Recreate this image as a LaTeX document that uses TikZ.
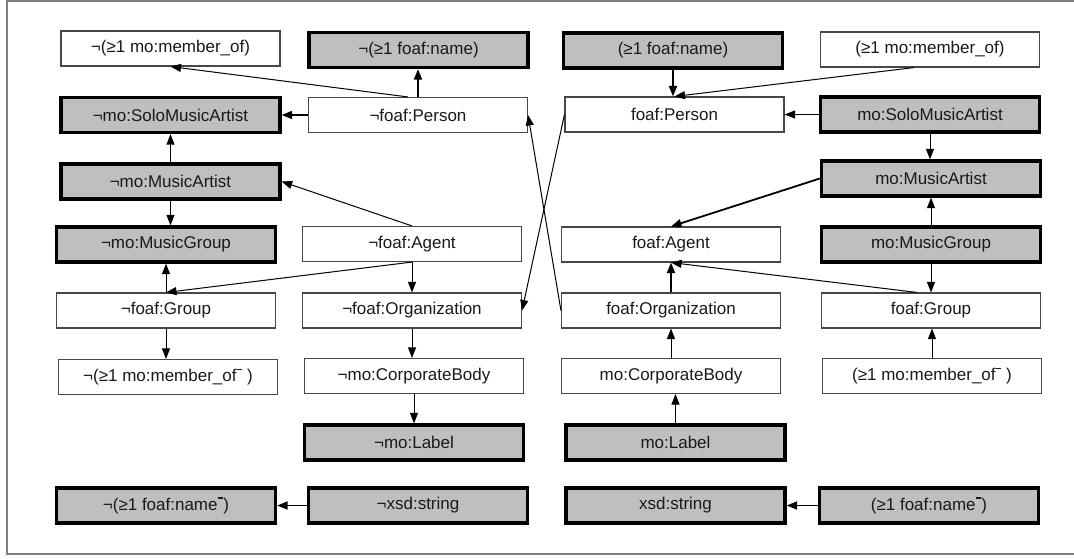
\documentclass[tikz,border=0pt]{standalone}
\usepackage{fontspec}
\setmainfont{Liberation Sans}
\usetikzlibrary{arrows.meta}
\newcommand{\invbar}{\raisebox{0.68em}{\rule{0.34em}{0.07em}}}
\begin{document}
\begin{tikzpicture}[x=1pt,y=-1pt,
 box/.style={draw=black!72, line width=1.1pt, minimum width=219pt, minimum height=35pt, inner sep=0pt, font=\fontsize{17}{20}\selectfont, text=black!90},
 gbox/.style={box, draw=black, line width=3.3pt, fill=black!25},
 arr/.style={-{Triangle[length=10.5pt,width=8pt]}, line width=1pt, black},
 tarr/.style={arr, line width=1.8pt},
 frame/.style={draw=black!50, line width=1.5pt}]
\useasboundingbox (0,0) rectangle (1074,558);
\draw[frame] (1074,0.8) -- (7,0.8) -- (7,554) -- (1074,554);

% left half
\node[box]  (nMember)    at (170.5,48.5) {¬(≥1 mo:member\_of)};
\node[gbox] (nName)      at (418.5,50)   {¬(≥1 foaf:name)};
\node[gbox] (nSolo)      at (170.5,115)  {¬mo:SoloMusicArtist};
\node[box]  (nPerson)    at (418,115)    {¬foaf:Person};
\node[gbox] (nMA)        at (170.5,181.5){¬mo:MusicArtist};
\node[gbox] (nMG)        at (166,244.5)  {¬mo:MusicGroup};
\node[box]  (nAgent)     at (412,244)    {¬foaf:Agent};
\node[box]  (nGroup)     at (166,310.5)  {¬foaf:Group};
\node[box]  (nOrg)       at (412,310.5)  {¬foaf:Organization};
\node[box]  (nMemberInv) at (168,377)    {¬(≥1 mo:member\_of\invbar\ )};
\node[box]  (nCorp)      at (414,376)    {¬mo:CorporateBody};
\node[gbox] (nLabel)     at (414,442.5)  {¬mo:Label};
\node[gbox] (nNameInv)   at (166,505.5)  {¬(≥1 foaf:name\invbar)};
\node[gbox] (nXsd)       at (418,505.5)  {¬xsd:string};

% right half
\node[gbox] (pName)      at (673,50.5)   {(≥1 foaf:name)};
\node[box]  (pMember)    at (930,49.5)   {(≥1 mo:member\_of)};
\node[box]  (pPerson)    at (674.5,114.5){foaf:Person};
\node[gbox] (pSolo)      at (930,114.5)  {mo:SoloMusicArtist};
\node[gbox] (pMA)        at (931,178.5)  {mo:MusicArtist};
\node[box]  (pAgent)     at (671,244.5)  {foaf:Agent};
\node[gbox] (pMG)        at (931,244.5)  {mo:MusicGroup};
\node[box]  (pOrg)       at (671,310.5)  {foaf:Organization};
\node[box]  (pGroup)     at (931,310.5)  {foaf:Group};
\node[box]  (pCorp)      at (671,376)    {mo:CorporateBody};
\node[box]  (pMemberInv) at (932,376)    {(≥1 mo:member\_of\invbar\ )};
\node[gbox] (pLabel)     at (675.5,442.5){mo:Label};
\node[gbox] (pXsd)       at (675.5,505.5){xsd:string};
\node[gbox] (pNameInv)   at (929,505.5)  {(≥1 foaf:name\invbar)};

% left edges
\draw[arr]  ([xshift=-10pt]nPerson.north) -- (nMember.south);
\draw[tarr] (nPerson.north) -- (nPerson.north |- nName.south);
\draw[tarr] (nPerson.west) -- (nSolo.east);
\draw[arr]  (nMA.north) -- (nSolo.south);
\draw[arr]  (nMA.south) -- (nMA.south |- nMG.north);
\draw[arr]  (nAgent.north) -- (nMA.east);
\draw[arr]  (nAgent.south) -- (nGroup.north);
\draw[arr]  (nGroup.north) -- (nGroup.north |- nMG.south);
\draw[arr]  (nAgent.south) -- (nOrg.north);
\draw[arr]  (nGroup.south) -- (nGroup.south |- nMemberInv.north);
\draw[arr]  (nOrg.south) -- (nOrg.south |- nCorp.north);
\draw[arr]  (nCorp.south) -- (nLabel.north);
\draw[tarr] (nXsd.west) -- (nNameInv.east);

% crossing edges
\draw[arr]  (pPerson.west) -- (nOrg.east);
\draw[arr]  (pOrg.west) -- (nPerson.east);

% right edges
\draw[tarr] (pName.south) -- (pName.south |- pPerson.north);
\draw[arr]  ([xshift=-16pt]pMember.south) -- (pPerson.north);
\draw[arr]  (pSolo.west) -- (pPerson.east);
\draw[arr]  (pSolo.south) -- (pSolo.south |- pMA.north);
\draw[tarr] (pMA.west) -- (pAgent.north);
\draw[arr]  (pMG.north) -- (pMA.south);
\draw[arr]  ([xshift=-14pt]pGroup.north) -- (pAgent.south);
\draw[arr]  (pMG.south) -- (pGroup.north);
\draw[tarr] (pOrg.north) -- (pAgent.south);
\draw[arr]  (pCorp.north) -- (pOrg.south);
\draw[arr]  (pLabel.north) -- (pLabel.north |- pCorp.south);
\draw[arr]  (pMemberInv.north) -- (pMemberInv.north |- pGroup.south);
\draw[tarr] (pNameInv.west) -- (pXsd.east);
\end{tikzpicture}
\end{document}
